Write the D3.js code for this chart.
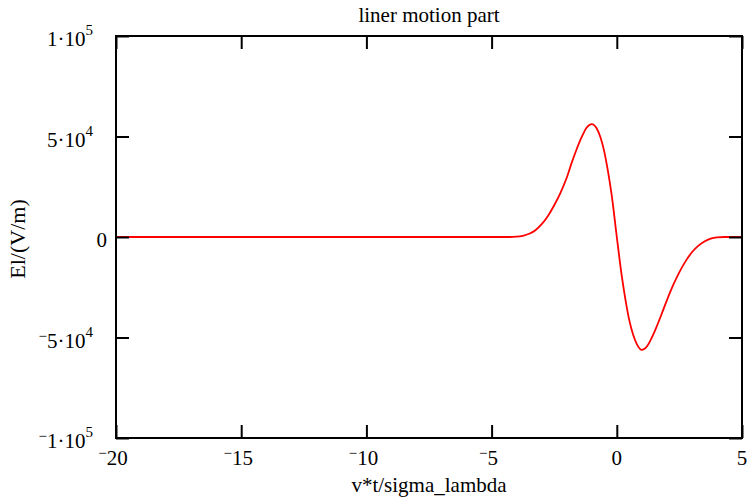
<!DOCTYPE html>
<html>
<head>
<meta charset="utf-8">
<script src="https://cdn.jsdelivr.net/npm/d3@7"></script>
<style>
  html, body { margin: 0; padding: 0; background: #fff; }
  svg { display: block; }
</style>
</head>
<body>
<svg id="chart" width="752" height="499"></svg>
<script>
// ---- data ----
const title = "liner motion part";
const xLabel = "v*t/sigma_lambda";
const yLabel = "El/(V/m)";

const xTicks = [-20, -15, -10, -5, 0, 5];
const xTickSign = ["−", "−", "−", "−", "", ""];
const xTickDigits = ["20", "15", "10", "5", "0", "5"];

const yTicks = [-100000, -50000, 0, 50000, 100000];
const yTickSign = ["−", "−", "", "", ""];
const yTickBase = ["1·10", "5·10", "0", "5·10", "1·10"];
const yTickExp = ["5", "4", "", "4", "5"];

const xValues = [-20, -6.7, -4.3, -4.0, -3.75, -3.5, -3.25, -3.0, -2.75, -2.5, -2.25, -2.0,
  -1.8, -1.6, -1.4, -1.2, -1.0, -0.8, -0.65, -0.5, -0.35, -0.2, 0,
  0.2, 0.35, 0.5, 0.65, 0.8, 1.0, 1.2, 1.4, 1.6, 1.8, 2.0, 2.25, 2.5, 2.75, 3.0, 3.25, 3.5, 3.75, 4.0, 4.3, 5];
const yValues = [0, 0, 0, 150, 600, 1600, 3400, 6400, 10500, 15800, 22000, 29500,
  37000, 43800, 49800, 54500, 56200, 54000, 49500, 42500, 32500, 20500, 0,
  -19500, -31500, -41500, -48500, -53300, -56200, -54500, -50000, -44300, -38000, -31500, -24000, -17500, -12000, -7600, -4400, -2200, -800, -200, 0, 0];

// ---- layout ----
const FONT = "'Liberation Serif', 'Times New Roman', Times, serif";
const svg = d3.select("#chart").attr("font-family", FONT);
const L = 116, R = 742, T = 36, B = 438;
const x = d3.scaleLinear().domain([-20, 5]).range([L, R]);
const y = d3.scaleLinear().domain([-100000, 100000]).range([B, T]);
const tickLen = 13;

// curve
const pts = xValues.map((v, i) => [v, yValues[i]]);
svg.append("path")
  .datum(pts)
  .attr("fill", "none")
  .attr("stroke", "#ff0000")
  .attr("stroke-width", 1.8)
  .attr("stroke-linejoin", "round")
  .attr("d", d3.line().x(d => x(d[0])).y(d => y(d[1])).curve(d3.curveMonotoneX));

// axes (ticks inward on all four sides)
function styleAxis(g) {
  g.selectAll("text").remove();
  g.select(".domain").remove();
  g.selectAll("line").attr("stroke", "#000").attr("stroke-width", 2);
}
svg.append("g").attr("transform", `translate(0,${B})`)
  .call(d3.axisBottom(x).tickValues(xTicks).tickSize(-tickLen)).call(styleAxis);
svg.append("g").attr("transform", `translate(0,${T})`)
  .call(d3.axisTop(x).tickValues(xTicks).tickSize(-tickLen)).call(styleAxis);
svg.append("g").attr("transform", `translate(${L},0)`)
  .call(d3.axisLeft(y).tickValues(yTicks).tickSize(-tickLen)).call(styleAxis);
svg.append("g").attr("transform", `translate(${R},0)`)
  .call(d3.axisRight(y).tickValues(yTicks).tickSize(-tickLen)).call(styleAxis);

// frame
svg.append("rect")
  .attr("x", L).attr("y", T).attr("width", R - L).attr("height", B - T)
  .attr("fill", "none").attr("stroke", "#000").attr("stroke-width", 2);

const FS = 21;
// x tick labels
xTicks.forEach((v, i) => {
  const t = svg.append("text")
    .attr("font-family", FONT)
    .attr("x", x(v) + (xTickSign[i] ? -3 : 0))
    .attr("y", B + 27)
    .attr("text-anchor", "middle")
    .attr("font-size", FS);
  if (xTickSign[i]) {
    t.append("tspan").attr("font-size", 15).attr("dy", -7).text(xTickSign[i]);
    t.append("tspan").attr("dy", 7).text(xTickDigits[i]);
  } else {
    t.text(xTickDigits[i]);
  }
});

// y tick labels
yTicks.forEach((v, i) => {
  const hasExp = yTickExp[i] !== "";
  const t = svg.append("text")
    .attr("font-family", FONT)
    .attr("x", hasExp ? L - 23 : L - 9)
    .attr("y", y(v) + 10)
    .attr("text-anchor", "end")
    .attr("font-size", FS);
  if (yTickSign[i]) {
    t.append("tspan").attr("font-size", 15).attr("dy", -7).text(yTickSign[i]);
    t.append("tspan").attr("dy", 7).text(yTickBase[i]);
  } else {
    t.append("tspan").text(yTickBase[i]);
  }
  if (hasExp) {
    t.append("tspan").attr("font-size", 15).attr("dy", -11).text(yTickExp[i]);
  }
});

// title and axis labels
svg.append("text").attr("font-family", FONT).attr("x", (L + R) / 2).attr("y", 22)
  .attr("text-anchor", "middle").attr("font-size", FS).text(title);
svg.append("text").attr("font-family", FONT).attr("x", (L + R) / 2).attr("y", 492)
  .attr("text-anchor", "middle").attr("font-size", FS).text(xLabel);
svg.append("text").attr("font-family", FONT)
  .attr("transform", `translate(25,${(T + B) / 2 + 2}) rotate(-90)`)
  .attr("text-anchor", "middle").attr("font-size", 22).text(yLabel);
</script>
</body>
</html>
